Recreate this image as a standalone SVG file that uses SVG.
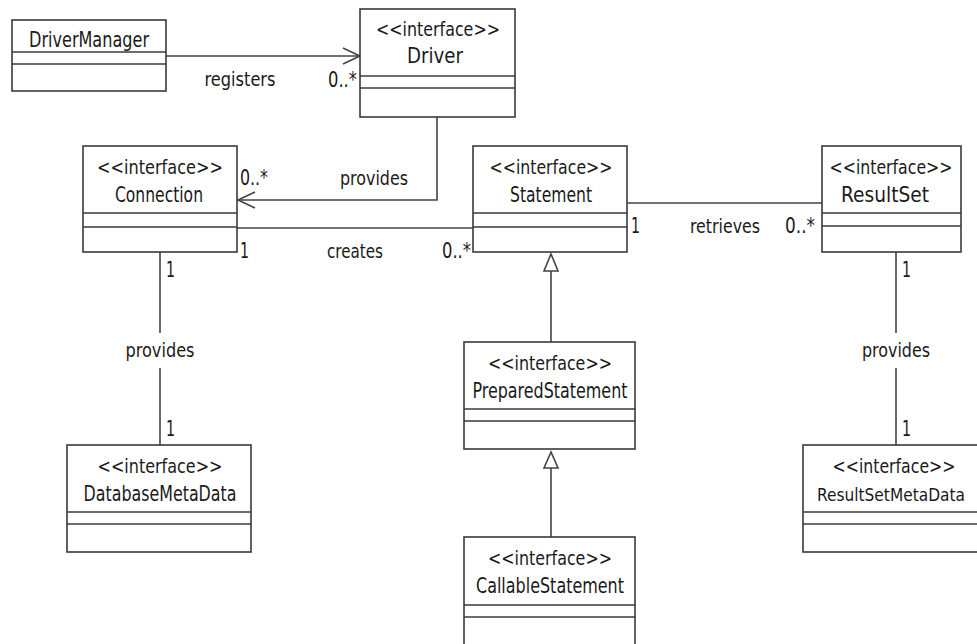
<svg xmlns="http://www.w3.org/2000/svg" width="977" height="644" viewBox="0 0 977 644">
<style>
  .box { fill: #ffffff; stroke: #3a3a3a; stroke-width: 1.6; }
  .div { stroke: #3a3a3a; stroke-width: 1.6; }
  .ln { fill: none; stroke: #444444; stroke-width: 1.6; }
  text { font-family: "DejaVu Sans Condensed", "DejaVu Sans", "Liberation Sans Narrow", "Liberation Sans", sans-serif; font-stretch: condensed; fill: #1a1a1a; }
  .st { font-size: 19px; text-anchor: middle; }
  .nm { font-size: 21px; text-anchor: middle; }
  .lb { font-size: 19px; text-anchor: middle; }
  .mu { font-size: 22px; }
</style>
<defs>
  <marker id="open" viewBox="0 0 20 20" refX="18" refY="10" markerWidth="20" markerHeight="20" markerUnits="userSpaceOnUse" orient="auto">
    <path d="M1,2 L18,10 L1,18" fill="none" stroke="#444444" stroke-width="1.6"/>
  </marker>
</defs>

<g id="connectors">
  <line class="ln" x1="166" y1="56" x2="360" y2="56" marker-end="url(#open)"/>
  <polyline class="ln" points="437,117 437,200 238,200" marker-end="url(#open)"/>
  <line class="ln" x1="237" y1="228" x2="473" y2="228"/>
  <line class="ln" x1="627" y1="203" x2="822" y2="203"/>
  <line class="ln" x1="160" y1="252" x2="160" y2="333"/>
  <line class="ln" x1="160" y1="368" x2="160" y2="445"/>
  <line class="ln" x1="896" y1="252" x2="896" y2="333"/>
  <line class="ln" x1="896" y1="368" x2="896" y2="445"/>
  <line class="ln" x1="551" y1="342" x2="551" y2="271"/>
  <polygon class="ln" points="551,254 544,271 558,271" fill="#ffffff"/>
  <line class="ln" x1="551" y1="537" x2="551" y2="468"/>
  <polygon class="ln" points="551,452 544,468 558,468" fill="#ffffff"/>

  <text class="lb" x="240" y="86" textLength="71" lengthAdjust="spacingAndGlyphs">registers</text>
  <text class="mu" x="328" y="87" textLength="29" lengthAdjust="spacingAndGlyphs">0..*</text>
  <text class="lb" x="374" y="185" textLength="68" lengthAdjust="spacingAndGlyphs">provides</text>
  <text class="mu" x="240" y="185" textLength="28" lengthAdjust="spacingAndGlyphs">0..*</text>
  <text class="mu" x="240" y="258" textLength="9" lengthAdjust="spacingAndGlyphs">1</text>
  <text class="lb" x="355" y="258" textLength="56" lengthAdjust="spacingAndGlyphs">creates</text>
  <text class="mu" x="442" y="258" textLength="29" lengthAdjust="spacingAndGlyphs">0..*</text>
  <text class="mu" x="631" y="233" textLength="9" lengthAdjust="spacingAndGlyphs">1</text>
  <text class="lb" x="725" y="233" textLength="70" lengthAdjust="spacingAndGlyphs">retrieves</text>
  <text class="mu" x="785" y="233" textLength="30" lengthAdjust="spacingAndGlyphs">0..*</text>
  <text class="mu" x="166" y="277" textLength="9" lengthAdjust="spacingAndGlyphs">1</text>
  <text class="lb" x="160" y="357" textLength="69" lengthAdjust="spacingAndGlyphs">provides</text>
  <text class="mu" x="166" y="436" textLength="9" lengthAdjust="spacingAndGlyphs">1</text>
  <text class="mu" x="902" y="277" textLength="9" lengthAdjust="spacingAndGlyphs">1</text>
  <text class="lb" x="896" y="357" textLength="68" lengthAdjust="spacingAndGlyphs">provides</text>
  <text class="mu" x="902" y="436" textLength="9" lengthAdjust="spacingAndGlyphs">1</text>
</g>

<g id="DriverManager">
  <rect class="box" x="12" y="20" width="154" height="71"/>
  <line class="div" x1="12" y1="52" x2="166" y2="52"/>
  <line class="div" x1="12" y1="64" x2="166" y2="64"/>
  <text class="nm" x="89" y="47" textLength="120" lengthAdjust="spacingAndGlyphs">DriverManager</text>
</g>

<g id="Driver">
  <rect class="box" x="360" y="9" width="155" height="108"/>
  <line class="div" x1="360" y1="76" x2="515" y2="76"/>
  <line class="div" x1="360" y1="88" x2="515" y2="88"/>
  <text class="st" x="438" y="36" textLength="124" lengthAdjust="spacingAndGlyphs">&lt;&lt;interface&gt;&gt;</text>
  <text class="nm" x="435" y="63" textLength="56" lengthAdjust="spacingAndGlyphs">Driver</text>
</g>

<g id="Connection">
  <rect class="box" x="83" y="146" width="154" height="106"/>
  <line class="div" x1="83" y1="213" x2="237" y2="213"/>
  <line class="div" x1="83" y1="227" x2="237" y2="227"/>
  <text class="st" x="160" y="174" textLength="126" lengthAdjust="spacingAndGlyphs">&lt;&lt;interface&gt;&gt;</text>
  <text class="nm" x="159" y="202" textLength="88" lengthAdjust="spacingAndGlyphs">Connection</text>
</g>

<g id="Statement">
  <rect class="box" x="473" y="146" width="154" height="106"/>
  <line class="div" x1="473" y1="213" x2="627" y2="213"/>
  <line class="div" x1="473" y1="227" x2="627" y2="227"/>
  <text class="st" x="551" y="174" textLength="123" lengthAdjust="spacingAndGlyphs">&lt;&lt;interface&gt;&gt;</text>
  <text class="nm" x="551" y="202" textLength="82" lengthAdjust="spacingAndGlyphs">Statement</text>
</g>

<g id="ResultSet">
  <rect class="box" x="822" y="146" width="139" height="106"/>
  <line class="div" x1="822" y1="213" x2="961" y2="213"/>
  <line class="div" x1="822" y1="226" x2="961" y2="226"/>
  <text class="st" x="891" y="174" textLength="123" lengthAdjust="spacingAndGlyphs">&lt;&lt;interface&gt;&gt;</text>
  <text class="nm" x="885" y="202" textLength="88" lengthAdjust="spacingAndGlyphs">ResultSet</text>
</g>

<g id="PreparedStatement">
  <rect class="box" x="464" y="342" width="171" height="107"/>
  <line class="div" x1="464" y1="409" x2="635" y2="409"/>
  <line class="div" x1="464" y1="421" x2="635" y2="421"/>
  <text class="st" x="550" y="370" textLength="124" lengthAdjust="spacingAndGlyphs">&lt;&lt;interface&gt;&gt;</text>
  <text class="nm" x="550" y="398" textLength="155" lengthAdjust="spacingAndGlyphs">PreparedStatement</text>
</g>

<g id="CallableStatement">
  <rect class="box" x="464" y="537" width="171" height="115"/>
  <line class="div" x1="464" y1="605" x2="635" y2="605"/>
  <line class="div" x1="464" y1="617" x2="635" y2="617"/>
  <text class="st" x="550" y="565" textLength="124" lengthAdjust="spacingAndGlyphs">&lt;&lt;interface&gt;&gt;</text>
  <text class="nm" x="550" y="593" textLength="148" lengthAdjust="spacingAndGlyphs">CallableStatement</text>
</g>

<g id="DatabaseMetaData">
  <rect class="box" x="67" y="445" width="184" height="107"/>
  <line class="div" x1="67" y1="512" x2="251" y2="512"/>
  <line class="div" x1="67" y1="524" x2="251" y2="524"/>
  <text class="st" x="160" y="473" textLength="125" lengthAdjust="spacingAndGlyphs">&lt;&lt;interface&gt;&gt;</text>
  <text class="nm" x="160" y="501" textLength="153" lengthAdjust="spacingAndGlyphs">DatabaseMetaData</text>
</g>

<g id="ResultSetMetaData">
  <rect class="box" x="803" y="445" width="176" height="107"/>
  <line class="div" x1="803" y1="512" x2="979" y2="512"/>
  <line class="div" x1="803" y1="524" x2="979" y2="524"/>
  <text class="st" x="894" y="473" textLength="123" lengthAdjust="spacingAndGlyphs">&lt;&lt;interface&gt;&gt;</text>
  <text class="nm" x="891" y="501" style="font-size:18px" textLength="148" lengthAdjust="spacingAndGlyphs">ResultSetMetaData</text>
</g>
</svg>
